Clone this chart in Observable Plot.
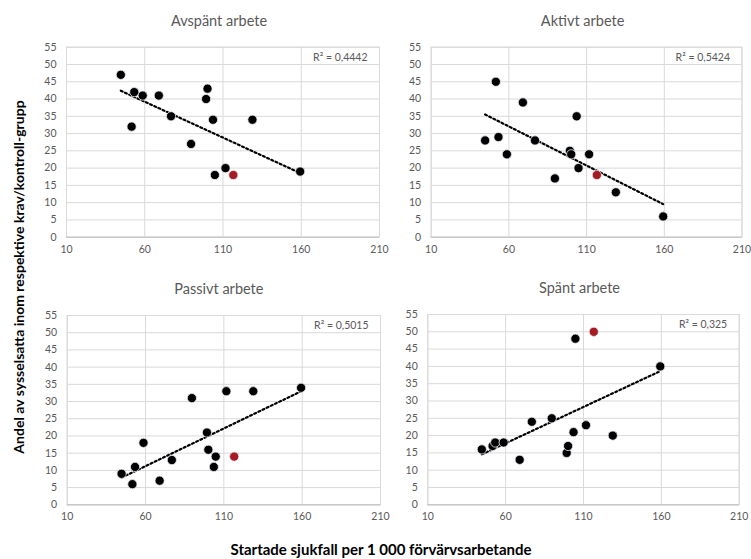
<!DOCTYPE html>
<html>
<head>
<meta charset="utf-8">
<script src="https://cdn.jsdelivr.net/npm/d3@7"></script>
<script src="https://cdn.jsdelivr.net/npm/@observablehq/plot@0.6"></script>
<style>
  html, body { margin: 0; padding: 0; background: #fff; }
  #chart { position: relative; width: 751px; height: 559px; background: #fff; font-family: Lato, "Open Sans", sans-serif; overflow: hidden; }
  #chart svg { position: absolute; overflow: visible; }
  .ylab { position: absolute; left: 18px; top: 277px; transform: translate(-50%, -50%) rotate(-90deg); white-space: nowrap; font-weight: bold; font-size: 14px; color: #000; }
  .xlab { position: absolute; left: 381px; top: 549px; transform: translate(-50%, -50%); white-space: nowrap; font-weight: bold; font-size: 15px; color: #000; }
</style>
</head>
<body>
<div id="chart"></div>
<script>
// Shared x values (startade sjukfall per 1 000 förvärvsarbetande)
const xValues = [44.7, 51.6, 53.3, 58.7, 69.0, 76.8, 89.6, 99.2, 100.1, 103.6, 104.8, 111.6, 116.6, 128.8, 159.3];
// 1 = highlighted (red) point
const highlighted = [0, 0, 0, 0, 0, 0, 0, 0, 0, 0, 0, 0, 1, 0, 0];

const panelTitles = ["Avspänt arbete", "Aktivt arbete", "Passivt arbete", "Spänt arbete"];
const r2Labels = ["R² = 0,4442", "R² = 0,5424", "R² = 0,5015", "R² = 0,325"];

const yAvspant = [47, 32, 42, 41, 41, 35, 27, 40, 43, 34, 18, 20, 18, 34, 19];
const yAktivt  = [28, 45, 29, 24, 39, 28, 17, 25, 24, 35, 20, 24, 18, 13, 6];
const yPassivt = [9, 6, 11, 18, 7, 13, 31, 21, 16, 11, 14, 33, 14, 33, 34];
const ySpant   = [16, 17, 18, 18, 13, 24, 25, 15, 17, 21, 48, 23, 50, 20, 40];
const seriesY = [yAvspant, yAktivt, yPassivt, ySpant];

const xTicks = [10, 60, 110, 160, 210];
const yTicks = [0, 5, 10, 15, 20, 25, 30, 35, 40, 45, 50, 55];

const xAxisTitle = "Startade sjukfall per 1 000 förvärvsarbetande";
const yAxisTitle = "Andel av sysselsatta inom respektive krav/kontroll-grupp";

// layout per panel
const layouts = [
  {left: 0,   top: 0,   width: 385, height: 270, mL: 66,   mR: 6,    mT: 46.7, mB: 33.3, tdx: -4},
  {left: 370, top: 0,   width: 381, height: 270, mL: 60.7, mR: 9.5,  mT: 46.7, mB: 33.3, tdx: -4},
  {left: 0,   top: 270, width: 385, height: 270, mL: 66.7, mR: 5,    mT: 45,   mB: 35.7, tdx: -5},
  {left: 370, top: 270, width: 381, height: 270, mL: 57.3, mR: 12.3, mT: 44,   mB: 35.7, tdx: -4}
];

const gridColor = "#d9d9d9";
const textColor = "#595959";
const red = "#a31b24";
const font = "Lato, 'Open Sans', sans-serif";

const chart = document.getElementById("chart");

seriesY.forEach((ys, i) => {
  const L = layouts[i];
  const data = xValues.map((x, j) => ({x, y: ys[j], hl: highlighted[j] === 1}));
  const plot = Plot.plot({
    width: L.width,
    height: L.height,
    marginLeft: L.mL,
    marginRight: L.mR,
    marginTop: L.mT,
    marginBottom: L.mB,
    style: {fontFamily: font, fontSize: "10.5px", background: "transparent"},
    x: {domain: [10, 210]},
    y: {domain: [0, 55]},
    marks: [
      Plot.gridX(xTicks, {stroke: gridColor, strokeOpacity: 1, strokeWidth: 1}),
      Plot.gridY(yTicks, {stroke: gridColor, strokeOpacity: 1, strokeWidth: 1}),
      Plot.frame({stroke: gridColor, strokeWidth: 1}),
      Plot.ruleY([0], {stroke: "#bfbfbf", strokeWidth: 1}),
      Plot.axisX(xTicks, {tickSize: 0, tickPadding: 8, fill: textColor, fontSize: 10.5, label: null}),
      Plot.axisY(yTicks, {tickSize: 0, tickPadding: 10, fill: textColor, fontSize: 10.5, label: null}),
      Plot.linearRegressionY(data, {x: "x", y: "y", ci: 0, stroke: "#000", strokeWidth: 2.2, strokeDasharray: "2,2.6"}),
      Plot.dot(data.filter(d => !d.hl), {x: "x", y: "y", r: 4.6, fill: "#000", stroke: "#e8eef5", strokeWidth: 0.8}),
      Plot.dot(data.filter(d => d.hl), {x: "x", y: "y", r: 4.6, fill: red, stroke: "#f0e8e8", strokeWidth: 0.8}),
      Plot.text([r2Labels[i]], {frameAnchor: "top-right", dx: -12, dy: 10, fill: textColor, fontSize: 10.5, textAnchor: "end", lineAnchor: "middle"}),
      Plot.text([panelTitles[i]], {frameAnchor: "top", dx: L.tdx, dy: -26, fill: textColor, fontSize: 14.5, lineAnchor: "middle"})
    ]
  });
  plot.style.left = L.left + "px";
  plot.style.top = L.top + "px";
  chart.appendChild(plot);
});

const yl = document.createElement("div");
yl.className = "ylab";
yl.textContent = yAxisTitle;
chart.appendChild(yl);

const xl = document.createElement("div");
xl.className = "xlab";
xl.textContent = xAxisTitle;
chart.appendChild(xl);
</script>
</body>
</html>
